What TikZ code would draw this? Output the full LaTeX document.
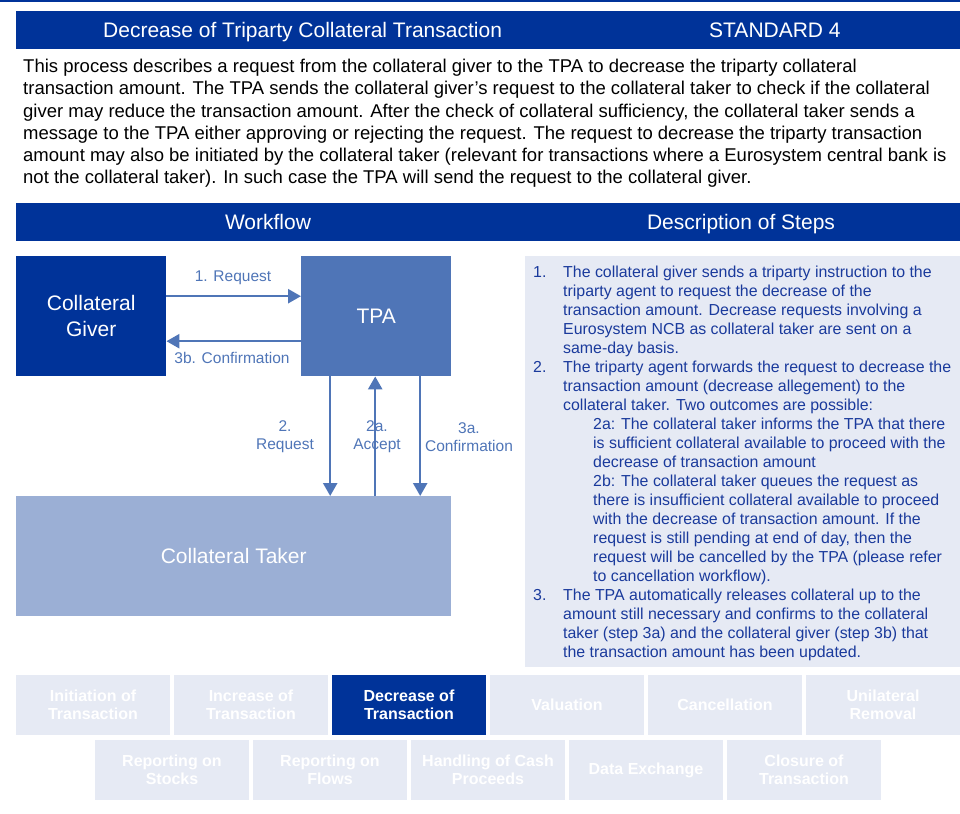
\documentclass[tikz,border=0pt]{standalone}
\usepackage{fontspec}
\setmainfont{Liberation Sans}
\usepackage{xcolor}
\usepackage{tikz}
\usetikzlibrary{positioning}
\usetikzlibrary{arrows.meta}

\definecolor{ecbdark}{RGB}{0,51,153}
\definecolor{tpablue}{RGB}{79,117,183}
\definecolor{takerblue}{RGB}{155,175,213}
\definecolor{paleblue}{RGB}{230,234,244}
\definecolor{steptext}{RGB}{26,58,156}

\begin{document}
\begin{tikzpicture}[x=1pt,y=-1pt,
  box/.style={rectangle,inner sep=0pt,text=white,align=center,font=\fontsize{21}{26}\selectfont},
  flow/.style={tpablue,line width=2.5pt,-{Triangle[width=14pt,length=13pt]}},
  flowlabel/.style={text=tpablue,align=center,inner sep=0pt,font=\fontsize{15.5}{18}\selectfont},
  bartext/.style={inner sep=0pt,text=white,text height=15pt,text depth=4pt,font=\fontsize{21}{24}\selectfont},
  tab/.style={rectangle,fill=paleblue,text=white,inner sep=0pt,outer sep=0pt,minimum width=154pt,minimum height=60pt,align=center,font=\bfseries\fontsize{16}{18.5}\selectfont}]

\useasboundingbox (0,0) rectangle (960,813);

% top rule and title bar
\fill[ecbdark] (0,0) rectangle (960,2);
\fill[ecbdark] (16,11) rectangle (960,49);
\node[bartext,anchor=west] (title) at (103,32.5) {Decrease of Triparty Collateral Transaction};
\node[bartext,anchor=west] (standard) at (709,32.5) {STANDARD 4};

% intro text
\node[anchor=north west,inner sep=0pt,align=left,font=\fontsize{18.5}{22.2}\selectfont] (intro) at (23,59) {%
This process describes a request from the collateral giver to the TPA to decrease the triparty collateral\\
transaction amount. The TPA sends the collateral giver’s request to the collateral taker to check if the collateral\\
giver may reduce the transaction amount. After the check of collateral sufficiency, the collateral taker sends a\\
message to the TPA either approving or rejecting the request. The request to decrease the triparty transaction\\
amount may also be initiated by the collateral taker (relevant for transactions where a Eurosystem central bank is\\
not the collateral taker). In such case the TPA will send the request to the collateral giver.};

% section bars
\fill[ecbdark] (16,203) rectangle (960,241);
\node[bartext] (workflow) at (268,224) {Workflow};
\node[bartext] (steps) at (741,224) {Description of Steps};

% parties
\node[box,fill=ecbdark,minimum width=150pt,minimum height=120pt,anchor=north west] (giver) at (16,256) {Collateral\\Giver};
\node[box,fill=tpablue,minimum width=150pt,minimum height=120pt,anchor=north west] (tpa) at (301,256) {TPA};
\node[box,fill=takerblue,minimum width=435pt,minimum height=120pt,anchor=north west] (taker) at (16,496) {Collateral Taker};

% messages between giver and TPA
\draw[flow] ([yshift=20pt]giver.east) -- ([yshift=20pt]tpa.west);
\draw[flow] ([yshift=-25pt]tpa.west) -- ([yshift=-25pt]giver.east);
\node[flowlabel] (req) at (233,278) {1. Request};
\node[flowlabel] (confb) at (232,358) {3b. Confirmation};

% messages between TPA and taker
\node[flowlabel] (reqtwo) at (285,437) {2.\\Request};
\node[flowlabel] (accept) at (377,437) {2a.\\Accept};
\node[flowlabel] (confa) at (469,437) {3a.\\Confirmation};
\draw[flow] ([xshift=-46pt]tpa.south) -- ([xshift=-46pt]tpa.south |- taker.north);
\draw[flow] ([xshift=-1pt]tpa.south |- taker.north) -- ([xshift=-1pt]tpa.south);
\draw[flow] ([xshift=44pt]tpa.south) -- ([xshift=44pt]tpa.south |- taker.north);

% description of steps
\fill[paleblue] (525,256) rectangle (960,667);
\node[anchor=north west,inner sep=0pt,align=left,text=steptext,font=\fontsize{15.9}{19}\selectfont] (desc) at (533,266) {%
\makebox[30pt][l]{1.}The collateral giver sends a triparty instruction to the\\
\hspace*{30pt}triparty agent to request the decrease of the\\
\hspace*{30pt}transaction amount. Decrease requests involving a\\
\hspace*{30pt}Eurosystem NCB as collateral taker are sent on a\\
\hspace*{30pt}same-day basis.\\
\makebox[30pt][l]{2.}The triparty agent forwards the request to decrease the\\
\hspace*{30pt}transaction amount (decrease allegement) to the\\
\hspace*{30pt}collateral taker. Two outcomes are possible:\\
\hspace*{60pt}2a: The collateral taker informs the TPA that there\\
\hspace*{60pt}is sufficient collateral available to proceed with the\\
\hspace*{60pt}decrease of transaction amount\\
\hspace*{60pt}2b: The collateral taker queues the request as\\
\hspace*{60pt}there is insufficient collateral available to proceed\\
\hspace*{60pt}with the decrease of transaction amount. If the\\
\hspace*{60pt}request is still pending at end of day, then the\\
\hspace*{60pt}request will be cancelled by the TPA (please refer\\
\hspace*{60pt}to cancellation workflow).\\
\makebox[30pt][l]{3.}The TPA automatically releases collateral up to the\\
\hspace*{30pt}amount still necessary and confirms to the collateral\\
\hspace*{30pt}taker (step 3a) and the collateral giver (step 3b) that\\
\hspace*{30pt}the transaction amount has been updated.};

% navigation tabs
\node[tab] (tinit) at (93,705) {Initiation of\\Transaction};
\node[tab,right=4pt of tinit] (tinc) {Increase of\\Transaction};
\node[tab,fill=ecbdark,right=4pt of tinc] (tdec) {Decrease of\\Transaction};
\node[tab,right=4pt of tdec] (tval) {Valuation};
\node[tab,right=4pt of tval] (tcanc) {Cancellation};
\node[tab,right=4pt of tcanc] (tunil) {Unilateral\\Removal};

\node[tab] (tstock) at (172,770) {Reporting on\\Stocks};
\node[tab,right=4pt of tstock] (tflow) {Reporting on\\Flows};
\node[tab,right=4pt of tflow] (tcash) {Handling of Cash\\Proceeds};
\node[tab,right=4pt of tcash] (tdata) {Data Exchange};
\node[tab,right=4pt of tdata] (tclose) {Closure of\\Transaction};

\end{tikzpicture}
\end{document}
